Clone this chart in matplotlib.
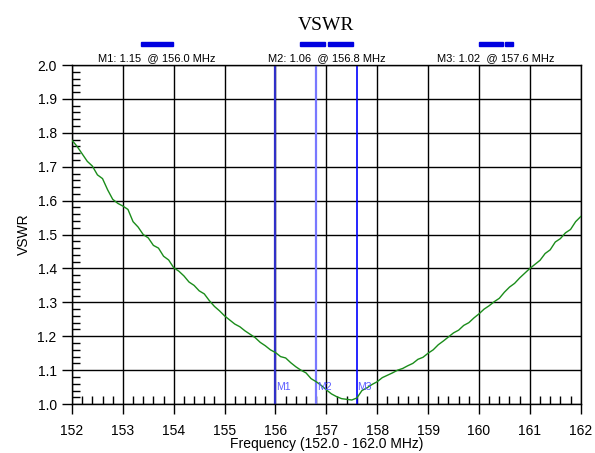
import matplotlib
matplotlib.use('Agg')
import matplotlib.pyplot as plt
from matplotlib.ticker import MultipleLocator
from matplotlib.patches import Rectangle

# frequency sweep, MHz (0.1 MHz steps)
freq = [152.0 + i * 0.1 for i in range(101)]
vswr = [1.778, 1.760, 1.738, 1.716, 1.702, 1.676, 1.665, 1.632, 1.604, 1.592,
        1.584, 1.574, 1.538, 1.522, 1.500, 1.490, 1.468, 1.460, 1.436, 1.425,
        1.402, 1.392, 1.378, 1.360, 1.350, 1.334, 1.325, 1.305, 1.288, 1.275,
        1.260, 1.248, 1.236, 1.228, 1.216, 1.206, 1.196, 1.182, 1.172, 1.160,
        1.152, 1.140, 1.136, 1.122, 1.110, 1.100, 1.092, 1.075, 1.066, 1.055,
        1.042, 1.030, 1.022, 1.016, 1.014, 1.012, 1.018, 1.040, 1.048, 1.058,
        1.066, 1.078, 1.085, 1.092, 1.100, 1.105, 1.113, 1.120, 1.132, 1.138,
        1.150, 1.160, 1.175, 1.186, 1.198, 1.210, 1.218, 1.232, 1.240, 1.254,
        1.266, 1.280, 1.290, 1.302, 1.312, 1.330, 1.345, 1.356, 1.372, 1.386,
        1.400, 1.412, 1.424, 1.444, 1.455, 1.478, 1.488, 1.505, 1.515, 1.538,
        1.553]

marker_names = ['M1', 'M2', 'M3']
marker_freq = [156.0, 156.8, 157.6]
marker_vswr = [1.15, 1.06, 1.02]
marker_colors = ['#3030c8', '#7878ff', '#0000ff']
marker_widths = [1.6, 1.6, 1.2]

plt.rcParams['font.family'] = ['Liberation Sans', 'DejaVu Sans']

fig = plt.figure(figsize=(5.95, 4.53), dpi=100)
ax = fig.add_axes([0.121, 0.108, 0.855, 0.7485])

ax.plot(freq, vswr, color='#1a8c1a', linewidth=1.0, zorder=3)

for name, f, c, w in zip(marker_names, marker_freq, marker_colors, marker_widths):
    ax.axvline(f, color=c, linewidth=w, zorder=2)
    ax.text(f + 0.01, 1.05, name, color='#5a5aff', fontsize=7.5, va='center', ha='left', zorder=4)

ax.set_xlim(152, 162)
ax.set_ylim(1.0, 2.0)
ax.xaxis.set_major_locator(MultipleLocator(1))
ax.xaxis.set_minor_locator(MultipleLocator(0.2))
ax.yaxis.set_major_locator(MultipleLocator(0.1))
ax.yaxis.set_minor_locator(MultipleLocator(0.02))
ax.xaxis.set_major_formatter(matplotlib.ticker.FormatStrFormatter('%d'))
ax.yaxis.set_major_formatter(matplotlib.ticker.FormatStrFormatter('%.1f'))

ax.grid(True, which='major', color='black', linewidth=1.0, zorder=1)
ax.set_axisbelow(True)
ax.tick_params(which='major', direction='out', length=7.5, width=1, labelsize=10, color='black')
ax.tick_params(axis='x', which='major', pad=7)
ax.tick_params(which='minor', direction='in', length=6, width=1, color='black')
for s in ax.spines.values():
    s.set_color('black')
    s.set_linewidth(1.0)

ax.set_xlabel('Frequency (152.0 - 162.0 MHz)', fontsize=10, labelpad=-1)
ax.set_ylabel('VSWR', fontsize=10, labelpad=4.5)
ax.set_title('VSWR', fontsize=14, family='Liberation Serif', pad=25)

# marker readouts above the plot
label_pos = [1 / 6, 0.5, 5 / 6]
for name, f, v, xp in zip(marker_names, marker_freq, marker_vswr, label_pos):
    ax.text(xp, 1.005, '%s: %.2f  @ %.1f MHz' % (name, v, f), transform=ax.transAxes,
            fontsize=8, ha='center', va='bottom')

# little blue bars above the readouts
bars = [(0.135, 0.063), (0.448, 0.049), (0.503, 0.049), (0.800, 0.047), (0.852, 0.014)]
for x0, w in bars:
    ax.add_patch(Rectangle((x0, 1.057), w, 0.011, transform=ax.transAxes,
                           color='#0000e0', clip_on=False))

fig.savefig('out.png', dpi=100)
